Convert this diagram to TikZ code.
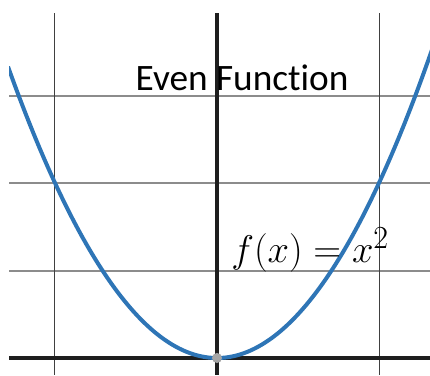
\documentclass[tikz,border=0pt]{standalone}
\usepackage{fontspec}
\newfontfamily\calib[Ligatures=NoCommon]{Carlito}
\definecolor{curveblue}{HTML}{2E75B6}
\definecolor{gridgray}{HTML}{8C8C8C}
\definecolor{vgrid}{HTML}{404040}
\definecolor{axisdark}{HTML}{1E1E1E}
\definecolor{dotgray}{HTML}{A6A6A6}
\begin{document}
\begin{tikzpicture}[x=1pt,y=-1pt,
  hgrid/.style={draw=gridgray,line width=1.3pt},
  vgridline/.style={draw=vgrid,line width=1pt},
  axisline/.style={draw=axisdark,line width=3.2pt},
  curveline/.style={draw=curveblue,line width=4pt},
  vertexdot/.style={circle,fill=dotgray,inner sep=0pt,minimum size=10pt}]
\useasboundingbox (0,0) rectangle (430,375);
% grid coordinates
\coordinate (h1l) at (9,96);  \coordinate (h1r) at (430,96);
\coordinate (h2l) at (9,183); \coordinate (h2r) at (430,183);
\coordinate (h3l) at (9,271); \coordinate (h3r) at (430,271);
\coordinate (v1t) at (54,13); \coordinate (v1b) at (54,375);
\coordinate (v2t) at (379,13); \coordinate (v2b) at (379,375);
\coordinate (xl) at (9,358); \coordinate (xr) at (430,358);
\coordinate (yt) at (217,13); \coordinate (yb) at (217,375);
\draw[hgrid] (h1l) -- (h1r);
\draw[hgrid] (h2l) -- (h2r);
\draw[hgrid] (h3l) -- (h3r);
\draw[vgridline] (v1t) -- (v1b);
\draw[vgridline] (v2t) -- (v2b);
\draw[axisline] (xl) -- (xr);
\draw[axisline] (yt) -- (yb);
% curve
\begin{scope}
\clip (9,0) rectangle (430,375);
\draw[curveline] plot[domain=-2.09:2.16,samples=120,smooth] ({217+100*\x},{358-66.7*\x*\x});
\end{scope}
\node[vertexdot] (vertex) at (217,358) {};
% labels
\node[anchor=base west,inner sep=0pt,font=\calib\fontsize{37.3}{42}\selectfont] (title) at (135.5,90) {Even Function};
\node[anchor=base west,inner sep=0pt,scale=1.55,font=\fontsize{24.88}{30}\selectfont] (formula) at (231,262) {$f(x)=x^2$};
\end{tikzpicture}
\end{document}
